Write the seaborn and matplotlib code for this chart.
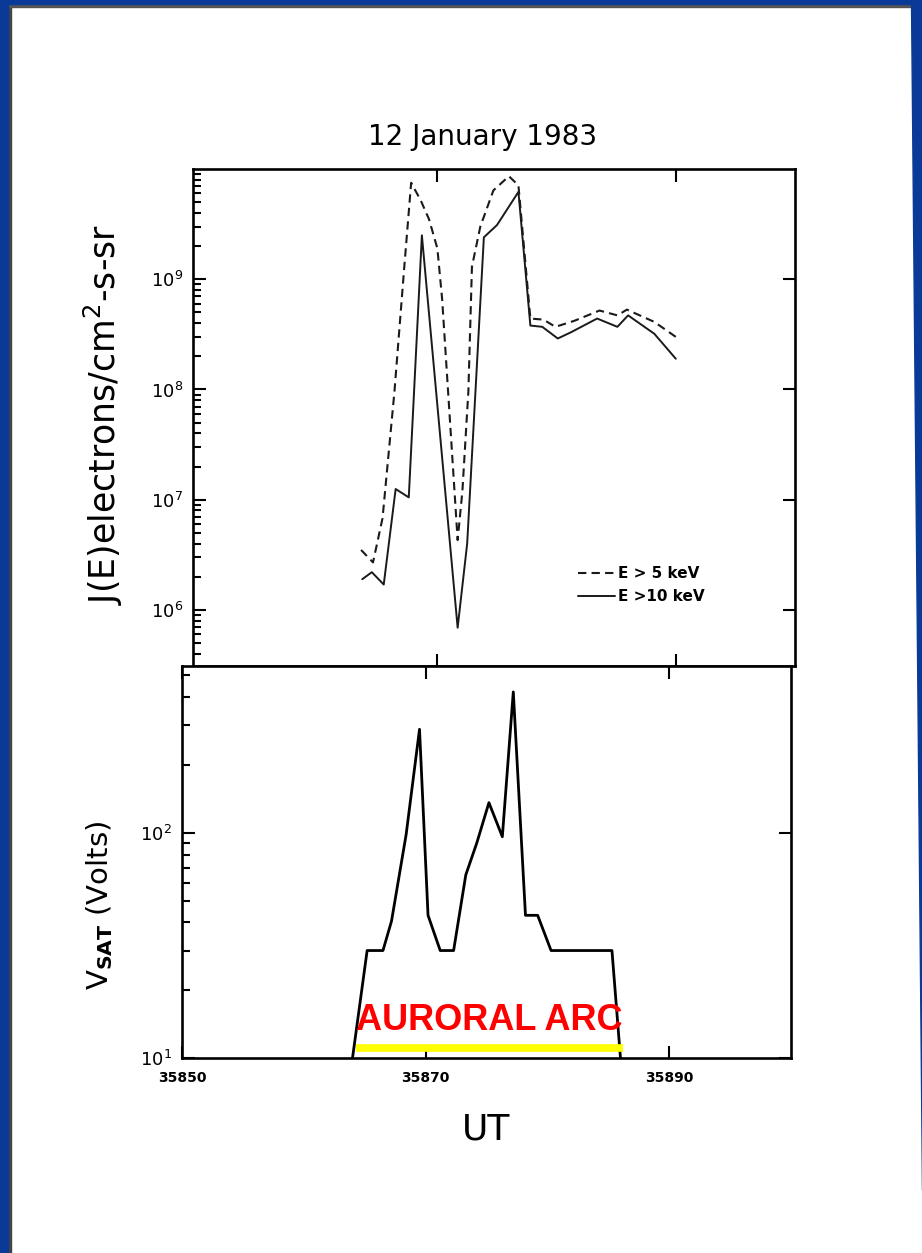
#-------------------------------------------------------
"""
Electron flux and satellite potential, 12 January 1983.
Two stacked log panels sharing the UT axis.
"""
#-------------------------------------------------------
import matplotlib
matplotlib.use('Agg')
import matplotlib.pyplot as plt
from matplotlib.patches import Rectangle, Polygon
from matplotlib.ticker import NullFormatter
import seaborn as sns

# top panel: J(E) flux, E > 5 keV (dashed)
ut_5kev = [35863.6, 35864.6, 35865.4, 35866.4, 35867.2, 35867.8, 35868.6,
           35869.3, 35870.0, 35870.4, 35871.7, 35872.1, 35872.6, 35872.9,
           35873.6, 35874.7, 35876.0, 35876.8, 35877.8, 35878.9, 35879.9,
           35881.5, 35883.6, 35885.1, 35885.9, 35888.2, 35890.0]
j_5kev = [3.5e6, 2.7e6, 6.8e6, 9.6e7, 1.2e9, 7.5e9, 5.2e9,
          3.5e9, 1.9e9, 6.6e8, 4.3e6, 1.2e7, 9.6e7, 1.3e9,
          3.0e9, 6.4e9, 8.6e9, 7.1e9, 4.4e8, 4.3e8, 3.7e8,
          4.2e8, 5.2e8, 4.7e8, 5.3e8, 4.1e8, 3.0e8]

# top panel: J(E) flux, E > 10 keV (solid)
ut_10kev = [35863.7, 35864.5, 35865.5, 35866.5, 35867.6, 35868.7, 35871.7,
            35872.5, 35873.9, 35875.0, 35876.8, 35877.8, 35878.8, 35880.1,
            35881.2, 35883.4, 35885.1, 35886.0, 35888.2, 35890.0]
j_10kev = [1.9e6, 2.2e6, 1.7e6, 1.25e7, 1.05e7, 2.5e9, 6.9e5,
           4.0e6, 2.4e9, 3.1e9, 6.2e9, 3.8e8, 3.7e8, 2.9e8,
           3.3e8, 4.4e8, 3.7e8, 4.7e8, 3.2e8, 1.9e8]

# bottom panel: satellite potential
ut_vsat = [35864.0, 35865.2, 35866.5, 35867.2, 35868.4, 35869.5, 35870.2,
           35871.2, 35872.3, 35873.3, 35874.2, 35875.2, 35876.3, 35877.2,
           35878.2, 35879.2, 35880.3, 35885.3, 35886.0]
v_sat = [10, 30, 30, 40.5, 98, 288, 43,
         30, 30, 65, 90, 136, 96, 422,
         43, 43, 30, 30, 10]

# auroral arc marker (start UT, end UT, level in volts)
arc_span = [35864.3, 35886.2]
arc_level = 11.1
arc_label = 'AURORAL ARC'

ut_ticks = [35850, 35870, 35890]
flux_ticks = [1e6, 1e7, 1e8, 1e9]
vsat_ticks = [10, 100]


#-------------------------------------------------------
def style_axis(ax):
    for s in ax.spines.values():
        s.set_linewidth(1.9)
        s.set_color('black')
    ax.tick_params(which='both', direction='in', top=True, right=True,
                   color='black', width=1.5)
    ax.tick_params(which='major', length=9, labelsize=13, pad=7)
    ax.tick_params(which='minor', length=6, right=False)
    ax.yaxis.set_minor_formatter(NullFormatter())
    ax.set_xlabel('')
    ax.set_ylabel('')


def main():
    sns.set_theme(style='ticks', rc={'axes.edgecolor': 'black',
                                     'xtick.color': 'black',
                                     'ytick.color': 'black',
                                     'text.color': 'black',
                                     'axes.labelcolor': 'black'})
    plt.rcParams['font.family'] = ['DejaVu Sans']

    W, H = 922, 1253
    fig = plt.figure(figsize=(W / 100, H / 100), dpi=100)
    fig.patch.set_facecolor('white')

    # ---- top panel
    ax1 = fig.add_axes([193 / W, 1 - 666 / H, 602 / W, 497 / H])
    sns.lineplot(x=ut_5kev, y=j_5kev, ax=ax1, color='#1a1a1a', lw=1.5,
                 linestyle=(0, (4, 2.5)), estimator=None, sort=False,
                 label='E > 5 keV')
    sns.lineplot(x=ut_10kev, y=j_10kev, ax=ax1, color='#1a1a1a', lw=1.4,
                 estimator=None, sort=False, label='E >10 keV')
    ax1.set_yscale('log')
    ax1.set_xlim(35849.5, 35900)
    ax1.set_ylim(3.1e5, 1e10)
    ax1.set_yticks(flux_ticks)
    ax1.set_xticks(ut_ticks[1:])
    ax1.set_xticklabels([])
    style_axis(ax1)
    ax1.legend(loc='upper left', bbox_to_anchor=(578 / W, 1 - 566 / H),
               bbox_transform=fig.transFigure, frameon=False,
               borderpad=0, borderaxespad=0, handlelength=2.4,
               handletextpad=0.2, labelspacing=0.55,
               prop={'size': 11, 'weight': 'bold'})

    # ---- bottom panel
    ax2 = fig.add_axes([182 / W, 1 - 1058 / H, 609 / W, 392 / H])
    sns.lineplot(x=ut_vsat, y=v_sat, ax=ax2, color='black', lw=2.0,
                 estimator=None, sort=False)
    ax2.set_yscale('log')
    ax2.set_xlim(35850, 35900)
    ax2.set_ylim(10, 550)
    ax2.set_yticks(vsat_ticks)
    ax2.set_xticks(ut_ticks)
    style_axis(ax2)
    ax2.tick_params(axis='x', labelsize=10, pad=9)
    for t in ax2.get_xticklabels():
        t.set_fontweight('bold')

    ax2.hlines(arc_level, arc_span[0], arc_span[1], color='#ffff00', lw=5.5,
               zorder=4)
    ax2.text(sum(arc_span) / 2, 13.3, arc_label, color='#ff0000',
             fontsize=26, fontweight='bold', ha='center', va='baseline',
             family=['Liberation Sans', 'DejaVu Sans'], zorder=5)

    # ---- texts
    fig.text(483 / W, 1 - 137 / H, '12 January 1983', fontsize=20,
             ha='center', va='center')
    fig.text(103 / W, 1 - 415 / H, r'J(E)electrons/cm$^2$-s-sr',
             fontsize=25, rotation=90, ha='center', va='center')
    fig.text(100 / W, 1 - 905 / H, r'V$_{\mathbf{SAT}}$ (Volts)',
             fontsize=21, rotation=90, ha='center', va='center')
    fig.text(486 / W, 1 - 1130 / H, 'UT', fontsize=26,
             ha='center', va='center')

    # ---- blue slide frame
    blue = '#0a3a98'
    fig.patches.append(Rectangle((0, 0), 8 / W, 1, transform=fig.transFigure,
                                 color=blue, zorder=10))
    fig.patches.append(Rectangle((0, 1 - 4 / H), 1, 4 / H,
                                 transform=fig.transFigure, color=blue,
                                 zorder=10))
    fig.patches.append(Polygon([(911 / W, 1), (1, 1), (1, 1 - 1190 / H)],
                               closed=True, transform=fig.transFigure,
                               color=blue, zorder=10))
    fig.patches.append(Rectangle((8 / W, 0), 2.5 / W, 1 - 4 / H,
                                 transform=fig.transFigure, color='#444444',
                                 zorder=9))
    fig.patches.append(Rectangle((8 / W, 1 - 6.5 / H), 1 - 19 / W, 2.5 / H,
                                 transform=fig.transFigure, color='#555555',
                                 zorder=9))

    fig.savefig('out.png', dpi=100)


#-------------------------------------------------------
if __name__ == '__main__':
    main()
